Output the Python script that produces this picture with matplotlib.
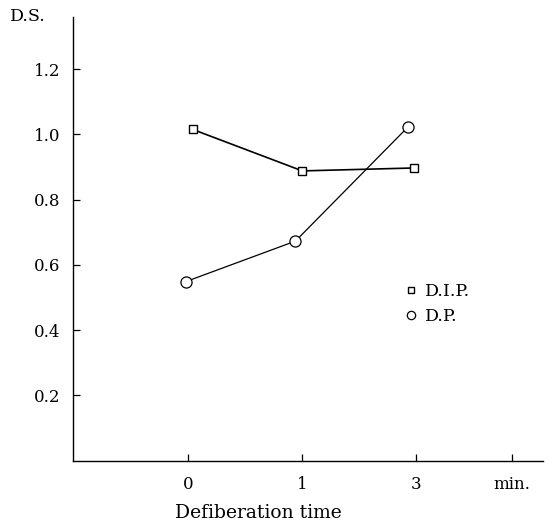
import matplotlib
matplotlib.use("Agg")
import matplotlib.pyplot as plt

# Defiberation time (min): 0, 1, 3 are drawn evenly spaced
time_labels = ["0", "1", "3"]
dip_x = [0.04, 1.0, 1.98]
dip_ds = [1.015, 0.888, 0.897]
dp_x = [-0.02, 0.94, 1.93]
dp_ds = [0.549, 0.673, 1.024]
y_ticks = [0.2, 0.4, 0.6, 0.8, 1.0, 1.2]

plt.rcParams["font.family"] = ["DejaVu Serif"]

fig = plt.figure(figsize=(5.57, 5.26), dpi=100)
ax = fig.add_axes([0.131, 0.124, 0.844, 0.844])

ax.plot(dip_x, dip_ds, "-s", color="black", lw=1.2, ms=6,
        mfc="white", mec="black", mew=1.0, label="D.I.P.")
ax.plot(dp_x, dp_ds, "-o", color="black", lw=0.9, ms=8,
        mfc="white", mec="black", mew=0.9, label="D.P.")

ax.set_xlim(-1.01, 3.11)
ax.set_ylim(0, 1.36)
ax.set_xticks([0, 1, 2, 2.84])
ax.set_xticklabels(time_labels + ["min."])
ax.set_yticks(y_ticks)
ax.set_yticklabels([f"{v:.1f}" for v in y_ticks])

for s in ["top", "right"]:
    ax.spines[s].set_visible(False)
for s in ["left", "bottom"]:
    ax.spines[s].set_linewidth(1.0)
ax.tick_params(direction="in", length=5, width=0.9, labelsize=12)
ax.tick_params(axis="x", pad=11)
ax.tick_params(axis="y", pad=9)

ax.set_xlabel("Defiberation time", fontsize=13.5)
ax.xaxis.set_label_coords(0.394, -0.097)
fig.text(0.018, 0.985, "D.S.", fontsize=12.5, va="top", ha="left")

leg = ax.legend(loc="upper left", bbox_to_anchor=(0.685, 0.435), frameon=False,
                handlelength=0, handletextpad=0.8, fontsize=12.5,
                labelspacing=0.45, markerscale=0.75)
for h in leg.legend_handles:
    h.set_linestyle("none")

fig.savefig("out.png", dpi=100)
